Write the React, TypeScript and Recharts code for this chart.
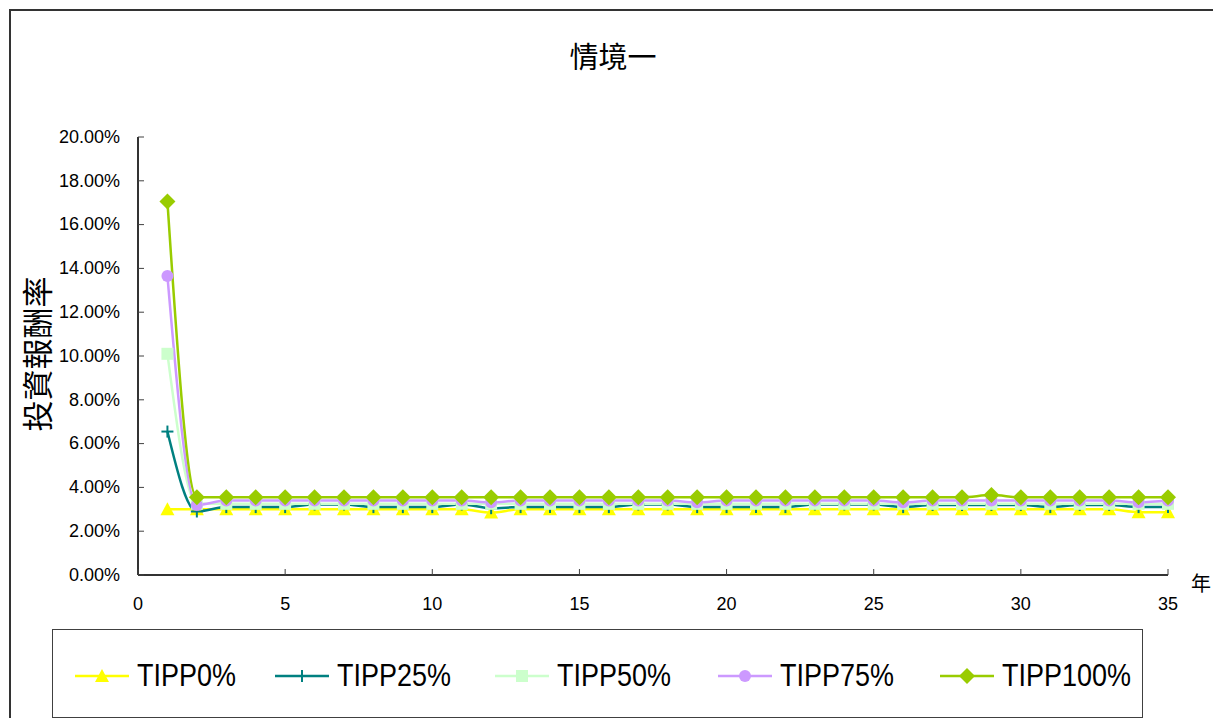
import React from 'react';
import { LineChart, Line, XAxis, YAxis } from 'recharts';

const years = [1, 2, 3, 4, 5, 6, 7, 8, 9, 10, 11, 12, 13, 14, 15, 16, 17, 18, 19, 20, 21, 22, 23, 24, 25, 26, 27, 28, 29, 30, 31, 32, 33, 34, 35];

const tipp0 = [3.0, 3.0, 3.0, 3.0, 3.0, 3.0, 3.0, 3.0, 3.0, 3.0, 3.0, 2.85, 3.0, 3.0, 3.0, 3.0, 3.0, 3.0, 3.0, 3.0, 3.0, 3.0, 3.0, 3.0, 3.0, 3.0, 3.0, 3.0, 3.0, 3.0, 3.0, 3.0, 3.0, 2.87, 2.87];
const tipp25 = [6.55, 2.9, 3.1, 3.1, 3.1, 3.22, 3.22, 3.1, 3.1, 3.1, 3.22, 3.05, 3.1, 3.1, 3.1, 3.1, 3.22, 3.22, 3.1, 3.1, 3.1, 3.1, 3.22, 3.22, 3.22, 3.1, 3.2, 3.2, 3.2, 3.2, 3.1, 3.2, 3.2, 3.1, 3.1];
const tipp50 = [10.1, 3.25, 3.25, 3.25, 3.25, 3.25, 3.25, 3.25, 3.25, 3.25, 3.25, 3.25, 3.25, 3.25, 3.25, 3.25, 3.25, 3.25, 3.25, 3.25, 3.25, 3.25, 3.25, 3.25, 3.25, 3.25, 3.25, 3.25, 3.25, 3.25, 3.25, 3.25, 3.25, 3.25, 3.25];
const tipp75 = [13.65, 3.2, 3.4, 3.4, 3.4, 3.4, 3.4, 3.4, 3.4, 3.4, 3.4, 3.32, 3.4, 3.4, 3.4, 3.4, 3.4, 3.4, 3.32, 3.4, 3.4, 3.4, 3.4, 3.4, 3.4, 3.32, 3.4, 3.4, 3.4, 3.4, 3.4, 3.4, 3.4, 3.32, 3.4];
const tipp100 = [17.05, 3.55, 3.55, 3.55, 3.55, 3.55, 3.55, 3.55, 3.55, 3.55, 3.55, 3.55, 3.55, 3.55, 3.55, 3.55, 3.55, 3.55, 3.55, 3.55, 3.55, 3.55, 3.55, 3.55, 3.55, 3.55, 3.55, 3.55, 3.65, 3.55, 3.55, 3.55, 3.55, 3.55, 3.55];

const xTicks = [0, 5, 10, 15, 20, 25, 30, 35];
const yTicks = [0, 2, 4, 6, 8, 10, 12, 14, 16, 18, 20];

const data = years.map((year, i) => ({
    year,
    tipp0: tipp0[i],
    tipp25: tipp25[i],
    tipp50: tipp50[i],
    tipp75: tipp75[i],
    tipp100: tipp100[i],
}));

const tickFont = "'Liberation Sans', Arial, sans-serif";
const cjkFont = "'Noto Sans CJK TC', 'Noto Sans CJK SC', sans-serif";

type Marker = 'triangle' | 'plus' | 'square' | 'circle' | 'diamond';

const series: { key: string; name: string; color: string; marker: Marker }[] = [
    { key: 'tipp0', name: 'TIPP0%', color: '#FFFF00', marker: 'triangle' },
    { key: 'tipp25', name: 'TIPP25%', color: '#008080', marker: 'plus' },
    { key: 'tipp50', name: 'TIPP50%', color: '#CCFFCC', marker: 'square' },
    { key: 'tipp75', name: 'TIPP75%', color: '#CC99FF', marker: 'circle' },
    { key: 'tipp100', name: 'TIPP100%', color: '#99CC00', marker: 'diamond' },
];

const markerShape = (marker: Marker, color: string, cx: number, cy: number, key?: string) => {
    switch (marker) {
        case 'triangle':
            return <polygon key={key} points={`${cx},${cy - 7} ${cx + 7},${cy + 6} ${cx - 7},${cy + 6}`} fill={color} />;
        case 'plus':
            return (
                <g key={key} stroke={color} strokeWidth={2}>
                    <line x1={cx - 6} y1={cy} x2={cx + 6} y2={cy} />
                    <line x1={cx} y1={cy - 6} x2={cx} y2={cy + 6} />
                </g>
            );
        case 'square':
            return <rect key={key} x={cx - 6} y={cy - 6} width={12} height={12} fill={color} />;
        case 'circle':
            return <circle key={key} cx={cx} cy={cy} r={6} fill={color} />;
        default:
            return <polygon key={key} points={`${cx},${cy - 8} ${cx + 8},${cy} ${cx},${cy + 8} ${cx - 8},${cy}`} fill={color} />;
    }
};

const XTick = (props: any) => {
    const { x, y, payload } = props;
    return (
        <g>
            <line x1={x} y1={y} x2={x} y2={y - 6} stroke="#404040" strokeWidth={1} />
            <text x={x} y={y + 30} textAnchor="middle" dominantBaseline="middle" fontSize={18} fontFamily={tickFont} fill="#000">
                {payload.value}
            </text>
        </g>
    );
};

const YTick = (props: any) => {
    const { x, y, payload } = props;
    return (
        <g>
            <line x1={x} y1={y} x2={x + 6} y2={y} stroke="#404040" strokeWidth={1} />
            <text x={x - 18} y={y + 1} textAnchor="end" dominantBaseline="middle" fontSize={18} fontFamily={tickFont} fill="#000">
                {`${payload.value.toFixed(2)}%`}
            </text>
        </g>
    );
};

const legendLeft = [75, 275, 495, 718, 940];

const App: React.FC = () => {
    return (
        <div style={{ position: 'absolute', left: 0, top: 0, width: 1213, height: 718, overflow: 'hidden', background: '#fff' }}>
            {/* chart frame */}
            <div style={{ position: 'absolute', left: 9, top: 9, width: 1300, height: 800, borderTop: '2px solid #333', borderLeft: '2px solid #333' }} />

            <div style={{ position: 'absolute', left: 0, top: 35, width: 1226, textAlign: 'center', fontFamily: cjkFont, fontSize: 29, lineHeight: '40px', color: '#000' }}>
                情境一
            </div>

            <div
                style={{
                    position: 'absolute',
                    left: 35,
                    top: 354,
                    transform: 'translate(-50%, -50%) rotate(-90deg)',
                    fontFamily: cjkFont,
                    fontSize: 31,
                    whiteSpace: 'nowrap',
                    color: '#000',
                }}
            >
                投資報酬率
            </div>

            <div style={{ position: 'absolute', left: 1191, top: 568, fontFamily: cjkFont, fontSize: 20, color: '#000' }}>年</div>

            <div style={{ position: 'absolute', left: 0, top: 0 }}>
                <LineChart width={1213} height={718} data={data} margin={{ top: 137, right: 45, bottom: 103, left: 0 }}>
                    <XAxis
                        xAxisId="top"
                        orientation="top"
                        type="number"
                        dataKey="year"
                        domain={[0, 35]}
                        height={0}
                        tick={false}
                        tickLine={false}
                        axisLine={{ stroke: '#808080', strokeWidth: 2 }}
                    />
                    <YAxis
                        yAxisId="right"
                        orientation="right"
                        domain={[0, 20]}
                        width={0}
                        tick={false}
                        tickLine={false}
                        axisLine={{ stroke: '#808080', strokeWidth: 2 }}
                    />
                    <XAxis
                        xAxisId="x"
                        type="number"
                        dataKey="year"
                        domain={[0, 35]}
                        ticks={xTicks}
                        height={40}
                        tickSize={0}
                        tickMargin={0}
                        tickLine={false}
                        interval={0}
                        tick={<XTick />}
                        axisLine={{ stroke: '#333', strokeWidth: 2 }}
                    />
                    <YAxis
                        yAxisId="y"
                        domain={[0, 20]}
                        ticks={yTicks}
                        width={138}
                        tickSize={0}
                        tickMargin={0}
                        tickLine={false}
                        interval={0}
                        tick={<YTick />}
                        axisLine={{ stroke: '#333', strokeWidth: 2 }}
                    />
                    {series.map((s) => (
                        <Line
                            key={s.key}
                            xAxisId="x"
                            yAxisId="y"
                            type="monotone"
                            dataKey={s.key}
                            name={s.name}
                            stroke={s.color}
                            strokeWidth={2.5}
                            isAnimationActive={false}
                            dot={(p: any) => markerShape(s.marker, s.color, p.cx, p.cy, `${s.key}-${p.index}`)}
                            activeDot={false}
                        />
                    ))}
                </LineChart>
            </div>

            {/* legend */}
            <div style={{ position: 'absolute', left: 52, top: 629, width: 1091, height: 89, border: '1px solid #404040', boxSizing: 'border-box', background: '#fff' }} />
            {series.map((s, i) => (
                <div key={s.key} style={{ position: 'absolute', left: legendLeft[i], top: 656, height: 40, display: 'flex', alignItems: 'center' }}>
                    <svg width={54} height={20}>
                        <line x1={0} y1={10} x2={54} y2={10} stroke={s.color} strokeWidth={2.5} />
                        {markerShape(s.marker, s.color, 27, 10)}
                    </svg>
                    <span
                        style={{
                            marginLeft: 8,
                            display: 'inline-block',
                            transform: 'scaleX(0.87)',
                            transformOrigin: 'left center',
                            fontFamily: tickFont,
                            fontSize: 31,
                            color: '#000',
                            lineHeight: '40px',
                            whiteSpace: 'nowrap',
                        }}
                    >
                        {s.name}
                    </span>
                </div>
            ))}
        </div>
    );
};

export default App;
